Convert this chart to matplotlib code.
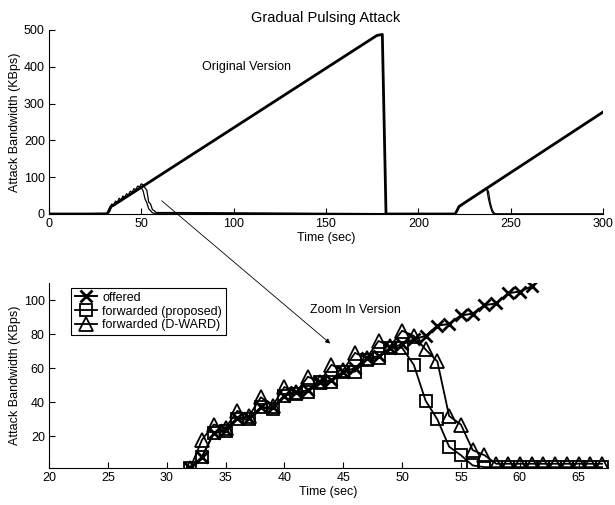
import numpy as np
import matplotlib
matplotlib.use('Agg')
import matplotlib.pyplot as plt

plt.rcParams['font.family'] = ['Liberation Sans', 'DejaVu Sans']
plt.rcParams['font.size'] = 9

# ---- zoomed data (bottom panel), one sample per second ----
zoom_t = np.arange(32, 68)
offered_t = np.arange(32, 62)
offered = [1.5, 8, 22, 24, 31, 31, 37, 37, 44, 46, 47, 52, 53, 58, 60, 66, 67,
           72, 74, 77, 79, 85, 86, 91, 92, 97, 98, 104, 105, 108]
proposed = [1.5, 8, 22, 23, 30, 30, 37, 36, 44, 45, 46, 52, 52, 58, 58, 65, 66,
            72, 72, 62, 41, 30, 14, 9, 3, 2, 2, 2, 2, 2, 2, 2, 2, 2, 2, 2]
dward = [1.5, 18, 27, 25, 35, 32, 43, 38, 49, 46, 55, 52, 62, 59, 69, 66, 76,
         73, 82, 79, 71, 64, 32, 27, 12, 9, 4, 4, 4, 4, 4, 4, 4, 4, 4, 4]

# ---- full run (top panel) ----
full_t = [0, 31.5, 32.5, 33.5, 35, 177.5, 180.5, 182.5, 220, 221, 222, 224, 300]
full_offered = [0, 0, 10, 20, 24, 485, 488, 0, 0, 10, 20, 27, 277]

pulse2_t = [220, 221, 222, 224, 236, 237, 238, 239, 240, 241, 242, 300]
pulse2_proposed = [0, 10, 20, 27, 66, 70, 40, 20, 5, 0, 0, 0]
pulse2_dward = [0, 10, 20, 27, 68, 72, 60, 30, 12, 3, 0, 0]

fig = plt.figure(figsize=(6.15, 5.05), dpi=100)
W, H = 615.0, 505.0
ax1 = fig.add_axes([49 / W, 1 - 214 / H, (603 - 49) / W, 184 / H])
ax2 = fig.add_axes([49 / W, 1 - 468 / H, (608 - 49) / W, 185 / H])

# top panel
top_t = np.concatenate([[0], zoom_t, pulse2_t])
top_prop = np.concatenate([[0], proposed, pulse2_proposed])
top_dward = np.concatenate([[0], dward, pulse2_dward])
ax1.plot(top_t, top_prop, color='k', lw=0.9)
ax1.plot(top_t, top_dward, color='k', lw=0.9)
ax1.plot(full_t, full_offered, color='k', lw=2.0)
ax1.set_xlim(0, 300)
ax1.set_ylim(0, 500)
ax1.set_xticks(np.arange(0, 301, 50))
ax1.set_yticks(np.arange(0, 501, 100))
ax1.set_xlabel('Time (sec)', labelpad=1)
ax1.set_ylabel('Attack Bandwidth (KBps)', labelpad=2)
ax1.set_title('Gradual Pulsing Attack', fontsize=10.5, pad=6)
ax1.text(107, 400, 'Original Version', ha='center', va='center')

# bottom panel
ax2.plot(offered_t, offered, color='k', lw=1.4, marker='x', ms=9, mew=2,
         label='offered')
ax2.plot(zoom_t, proposed, color='k', lw=1.3, marker='s', ms=8, mew=1.3,
         mfc='none', label='forwarded (proposed)')
ax2.plot(zoom_t, dward, color='k', lw=1.3, marker='^', ms=10, mew=1.3,
         mfc='none', label='forwarded (D-WARD)')
ax2.set_xlim(20, 67.5)
ax2.set_ylim(1.5, 110)
ax2.set_xticks(np.arange(20, 66, 5))
ax2.set_yticks([20, 40, 60, 80, 100])
ax2.set_xlabel('Time (sec)', labelpad=1)
ax2.set_ylabel('Attack Bandwidth (KBps)', labelpad=2)
ax2.text(46, 94, 'Zoom In Version', ha='center', va='center')
leg = ax2.legend(loc='upper left', bbox_to_anchor=(0.039, 0.973),
                 borderaxespad=0, fancybox=False, edgecolor='k',
                 handlelength=1.8, labelspacing=0.15, borderpad=0.3,
                 handletextpad=0.4, framealpha=1)
leg.get_frame().set_linewidth(0.8)

for ax in (ax1, ax2):
    ax.spines['top'].set_visible(False)
    ax.spines['right'].set_visible(False)
    ax.tick_params(direction='in', length=4, width=0.8, pad=3)

ax2.annotate('', xy=(43.9, 74.5), xycoords='data',
             xytext=(61, 36), textcoords=ax1.transData,
             arrowprops=dict(arrowstyle='-|>', lw=0.6, color='k',
                             mutation_scale=7, shrinkA=0, shrinkB=0),
             annotation_clip=False)

fig.savefig('out.png', dpi=100)
